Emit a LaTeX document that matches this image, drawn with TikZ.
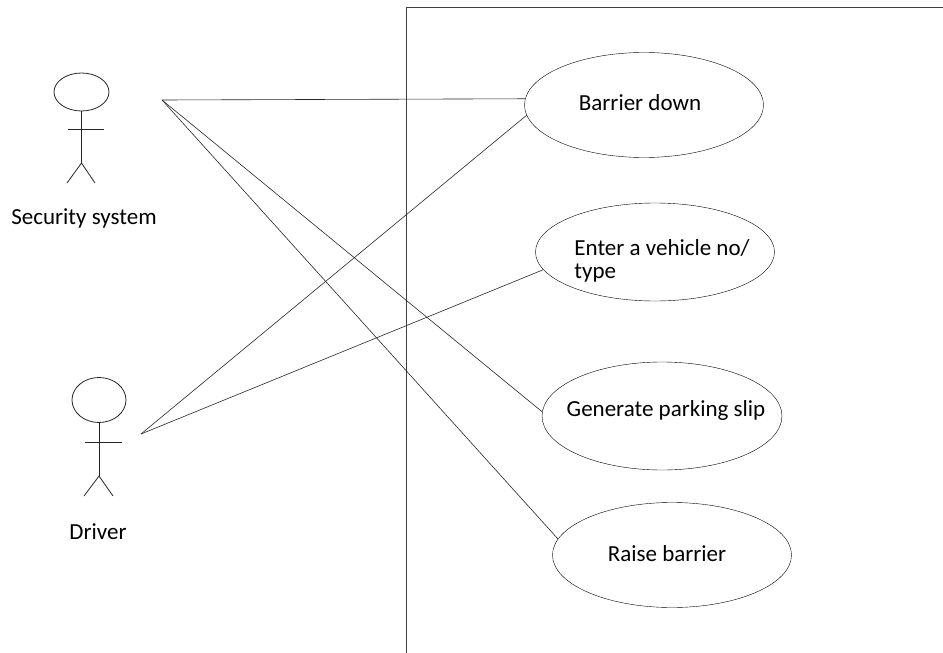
\documentclass[tikz,border=0pt]{standalone}
\usepackage{fontspec}
\setmainfont{Carlito}
\usetikzlibrary{shapes.geometric}
\tikzset{
  ucase/.style={draw, ellipse, inner sep=0pt, minimum width=239pt, minimum height=105pt},
  actorline/.style={line width=0.8pt, black!85},
  assoc/.style={line width=0.6pt, black!85}
}
\begin{document}
\begin{tikzpicture}[x=1pt,y=-1pt,font=\fontsize{23}{23}\selectfont]
  \useasboundingbox (0,0) rectangle (943,653);
  % system boundary
  \draw [line width=1pt, black!75] (406.5,653) -- (406.5,7.5) -- (943,7.5);
  % actor: security system
  \draw [actorline] (81.5,92) ellipse (27.5 and 19);
  \draw [actorline] (81.5,111) -- (81.5,163);
  \draw [actorline] (68,129) -- (104,129);
  \draw [actorline] (67,183) -- (81.5,163) -- (95,183);
  \node (seclabel) at (84,218) {Security system};
  \coordinate (sec) at (162,100);
  % actor: driver
  \draw [actorline] (99,400) ellipse (27 and 22.5);
  \draw [actorline] (99,423) -- (99,476);
  \draw [actorline] (85,442) -- (122,442);
  \draw [actorline] (84,496) -- (99,476) -- (113,496);
  \node (drvlabel) at (98,532) {Driver};
  \coordinate (drv) at (141,434);
  % use cases
  \node [ucase, label={[xshift=-4pt,yshift=2pt]center:Barrier down}] (down) at (644,105) {};
  \node [ucase, minimum height=98pt,
    label={[align=left,xshift=7pt,yshift=-9pt]center:Enter a vehicle no/\\type}] (enter) at (655,252) {};
  \node [ucase, minimum width=240pt, minimum height=108pt,
    label={[xshift=4pt,yshift=6pt]center:Generate parking slip}] (slip) at (662,416) {};
  \node [ucase, label={[xshift=-5pt,yshift=1pt]center:Raise barrier}] (raise) at (672,555) {};
  % associations
  \draw [assoc] (sec) -- (down.177);
  \draw [assoc] (sec) -- (slip.178);
  \draw [assoc] (sec) -- (raise.172);
  \draw [assoc] (drv) -- (down.185);
  \draw [assoc] (drv) -- (enter.189);
\end{tikzpicture}
\end{document}
